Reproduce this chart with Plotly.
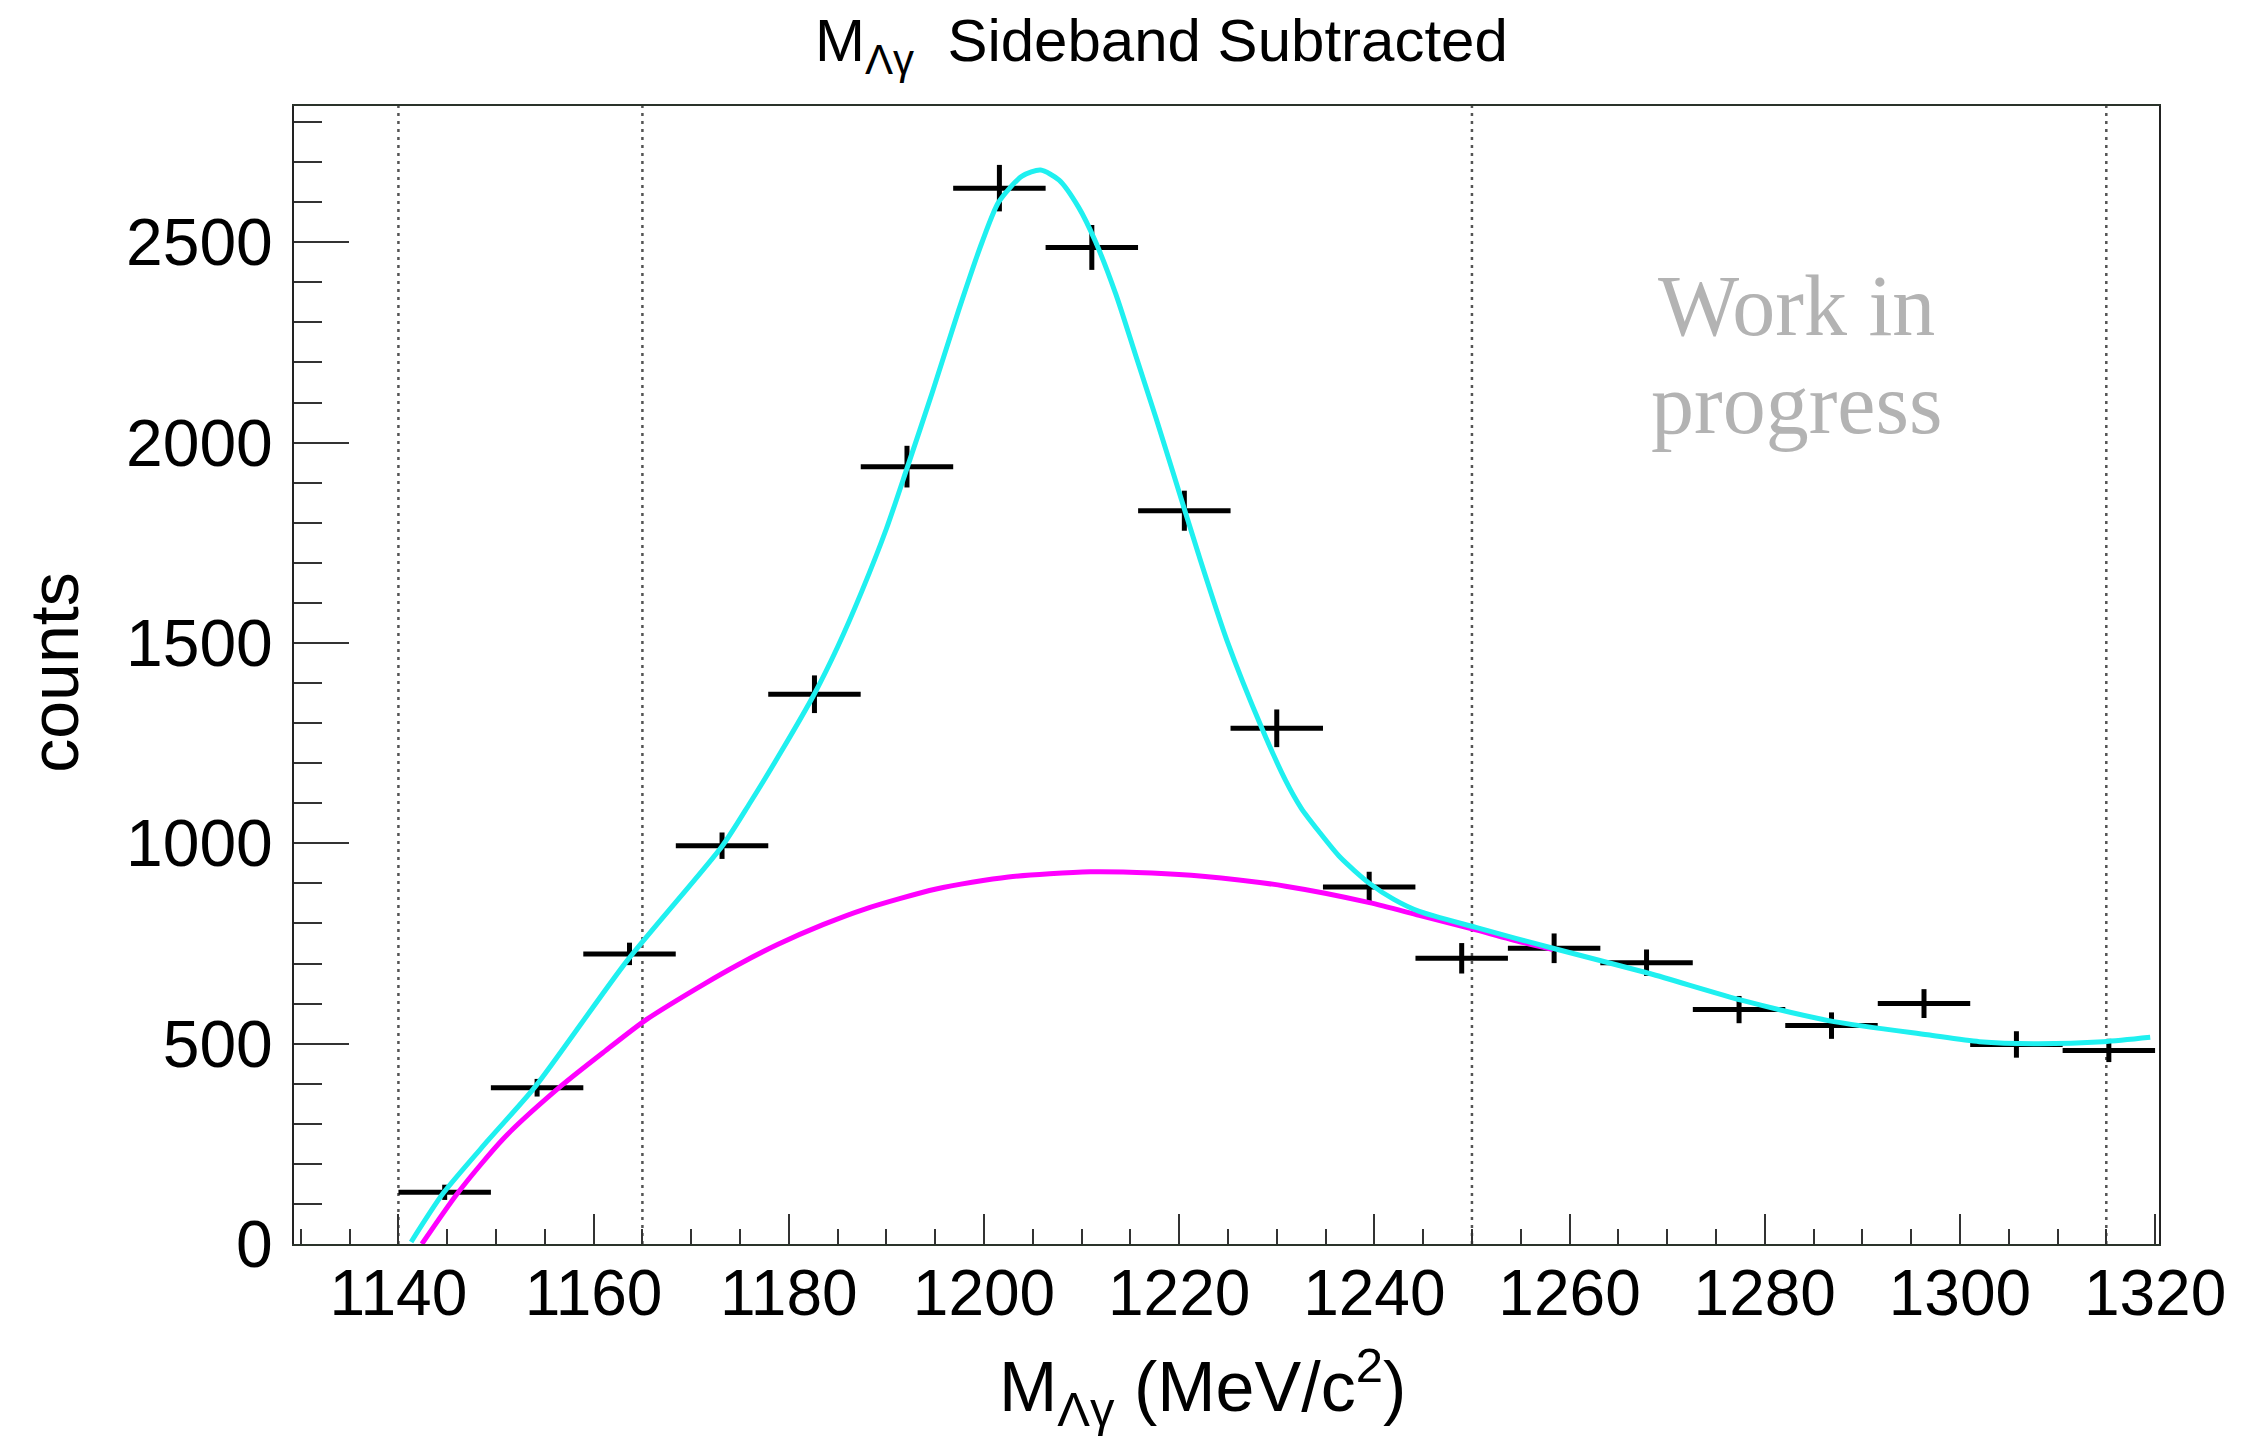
import plotly.graph_objects as go

# ---- histogram: sideband-subtracted M(Lambda gamma), 19 bins from 1140 to 1320 MeV/c^2
bin_centers = [1144.74, 1154.21, 1163.68, 1173.16, 1182.63, 1192.11, 1201.58,
               1211.05, 1220.53, 1230.00, 1239.47, 1248.95, 1258.42, 1267.89,
               1277.37, 1286.84, 1296.32, 1305.79, 1315.26]
bin_width = 9.474
counts = [129, 390, 724, 994, 1372, 1940, 2635, 2487, 1830, 1287, 891,
          713, 738, 702, 585, 545, 600, 498, 483]
count_errors = [19, 22, 28, 33, 47, 52, 58, 56, 50, 47, 38, 38, 37, 33,
                34, 33, 36, 33, 29]

# ---- total fit (signal + background), sampled along the curve
fit_x = [1141.3, 1144.6, 1149.2, 1154.0, 1163.4, 1173.2, 1176.0, 1179.3,
         1182.6, 1185.0, 1187.5, 1190.0, 1192.1, 1194.7, 1197.4, 1199.8,
         1201.5, 1203.9, 1205.8, 1207.7, 1209.7, 1211.4, 1213.5, 1215.5,
         1217.6, 1219.3, 1222.0, 1224.9, 1228.5, 1230.9, 1232.5, 1234.3,
         1236.5, 1239.5, 1242.0, 1244.6, 1250.4, 1258.3, 1268.2, 1277.7,
         1287.1, 1296.7, 1302.0, 1307.8, 1314.7, 1319.5]
fit_y = [5, 127, 259, 392, 706, 994, 1100, 1232, 1372, 1490, 1630, 1785,
         1935, 2125, 2330, 2500, 2600, 2665, 2680, 2655, 2587, 2503, 2371,
         2221, 2063, 1931, 1720, 1506, 1286, 1157, 1088, 1030, 965, 900,
         860, 830, 790, 738, 675, 608, 555, 522, 505, 500, 505, 516]

# ---- background component of the fit
bkg_x = [1142.4, 1146.1, 1150.8, 1156.7, 1161.2, 1165.4, 1171.4, 1174.8,
         1178.9, 1183.5, 1187.8, 1195.1, 1202.5, 1210.9, 1217.2, 1222.4,
         1230.9, 1239.5, 1244.6, 1250.4, 1255.3, 1258.3]
bkg_y = [0, 128, 264, 395, 482, 560, 650, 697, 748, 797, 836, 886, 916,
         929, 926, 918, 893, 852, 820, 784, 752, 735]

# ---- region boundaries (dotted verticals)
region_edges = [1140, 1165, 1250, 1315]

x_ticks = [1140, 1160, 1180, 1200, 1220, 1240, 1260, 1280, 1300, 1320]
y_ticks = [0, 500, 1000, 1500, 2000, 2500]

SANS = "Liberation Sans, Arial, Helvetica, sans-serif"
SERIF = "Liberation Serif, Times New Roman, serif"

fig = go.Figure()

fig.add_trace(go.Scatter(
    x=bin_centers, y=counts, mode="markers",
    marker=dict(size=0.1, color="black"),
    error_x=dict(type="constant", value=bin_width / 2, thickness=5,
                 width=0, color="black"),
    error_y=dict(type="data", array=count_errors, thickness=5, width=0,
                 color="black"),
    showlegend=False, hoverinfo="skip"))

fig.add_trace(go.Scatter(
    x=bkg_x, y=bkg_y, mode="lines",
    line=dict(color="#ff00ff", width=5, shape="spline", smoothing=0.7),
    showlegend=False))

fig.add_trace(go.Scatter(
    x=fit_x, y=fit_y, mode="lines",
    line=dict(color="#1ff0f0", width=5, shape="spline", smoothing=0.7),
    showlegend=False))

for xv in region_edges:
    fig.add_shape(type="line", xref="x", yref="paper", x0=xv, x1=xv,
                  y0=0, y1=1, layer="below",
                  line=dict(color="#555555", width=2.5, dash="3px,5px"))

annotations = [
    dict(text="M<sub>Λγ</sub>  Sideband Subtracted", x=0.465, y=1.054,
         xref="paper", yref="paper", showarrow=False, xanchor="center",
         yanchor="middle", font=dict(family=SANS, size=60, color="black")),
    dict(text="M<sub>Λγ</sub> (MeV/c<sup>2</sup>)", x=0.487, y=-0.126,
         xref="paper", yref="paper", showarrow=False, xanchor="center",
         yanchor="middle", font=dict(family=SANS, size=70, color="black")),
    dict(text="counts", x=-0.1287, y=0.502, xref="paper", yref="paper",
         showarrow=False, textangle=-90, xanchor="center", yanchor="middle",
         font=dict(family=SANS, size=68, color="black")),
    dict(text="Work in", x=0.8054, y=0.824, xref="paper", yref="paper",
         showarrow=False, xanchor="center", yanchor="middle",
         font=dict(family=SERIF, size=86, color="#b3b3b3")),
    dict(text="progress", x=0.8054, y=0.738, xref="paper", yref="paper",
         showarrow=False, xanchor="center", yanchor="middle",
         font=dict(family=SERIF, size=86, color="#b3b3b3")),
]

fig.update_layout(
    width=2255, height=1436,
    margin=dict(l=294, r=96, t=106, b=192),
    paper_bgcolor="white", plot_bgcolor="white",
    annotations=annotations,
    xaxis=dict(
        range=[1129.3, 1320.4], tickvals=x_ticks,
        ticks="inside", ticklen=30, tickwidth=2, tickcolor="#333333",
        showline=True, linecolor="#2a332a", linewidth=2, mirror=True,
        showgrid=False, zeroline=False, ticklabelstandoff=-8,
        tickfont=dict(family=SANS, size=64, color="black"),
        minor=dict(dtick=5, tick0=1140, ticks="inside", ticklen=15,
                   tickwidth=2, tickcolor="#333333", showgrid=False)),
    yaxis=dict(
        range=[0, 2840], tickvals=y_ticks,
        ticks="inside", ticklen=55, tickwidth=2, tickcolor="#333333",
        showline=True, linecolor="#222222", linewidth=2, mirror=True,
        showgrid=False, zeroline=False, ticklabelstandoff=6,
        tickfont=dict(family=SANS, size=66, color="black"),
        minor=dict(dtick=100, tick0=0, ticks="inside", ticklen=28,
                   tickwidth=2, tickcolor="#333333", showgrid=False)),
)

fig.write_html("out.html")
